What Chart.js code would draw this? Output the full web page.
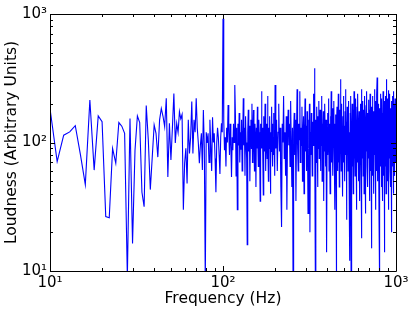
<!DOCTYPE html>
<html>
<head>
<meta charset="utf-8">
<script src="https://cdn.jsdelivr.net/npm/chart.js@4"></script>
<style>
html,body{margin:0;padding:0;background:#fff;}
#wrap{width:415px;height:312px;}
</style>
</head>
<body>
<div id="wrap"><canvas id="c" width="415" height="312"></canvas></div>
<script>
// Frequency grid segments (Hz): start, step, and values
const segStart = [10, 121, 202];
const segStep  = [1, 1, 2];

// 10..120 Hz, 1 Hz apart
const lowVals = [184,71,114,121,135,80,47,214,61,161,145,26.5,26,90,69,143,134,118,9,154,16.4,87,161,143,41,31.6,194,105,43,77,137,118,77,
150,184,160,133,221,54,141,73,130,241,
99,141,120,174,153,165,30,69,90,48,
150,82,110,208,82,150,120,221,130,99,
69,95,118,61,179,90,8,120,99,118,
70,150,95,60,157,100,118,75,41,99,
130,110,80,57,110,141,120,920,150,87,
110,65,130,100,196,120,80,140,95,54,
110,87,140,100,280,160,55,130];

// 121..200 Hz, 1 Hz apart
const midVals = [30,140,95,170,70,120,88,150,60,110,
221,95,130,55,160,100,75,16,120,180,
85,135,50,110,150,90,200,70,120,179,
95,60,140,110,45,130,90,190,100,65,
150,120,80,35,140,105,250,90,130,70,
39,160,110,85,200,95,60,140,115,75,
230,100,50,130,90,160,110,40,120,85,
190,100,140,65,110,170,80,125,55,280];

// 202..1000 Hz, 2 Hz apart
const highVals = [
90,150,60,120,200,85,130,45,22,140,100,230,75,120,55,160,30,110,180,95,
140,65,210,100,45,130,8,120,170,80,150,35,115,260,90,60,140,105,250,70,
130,95,190,50,120,160,40,110,220,85,135,60,175,100,28,150,90,200,20,120,
80,170,110,55,145,95,240,130,378,100,8,150,70,190,115,45,160,90,210,75,
130,180,60,120,95,230,50,140,100,175,35,120,85,200,110,65,150,95,14,130,
170,80,120,220,60,140,100,40,160,90,250,115,70,130,185,55,120,95,210,75,
140,30,110,165,85,8,130,190,60,120,100,240,70,150,45,115,180,90,310,100,
60,140,200,85,125,38,160,100,230,70,135,95,50,175,110,260,80,145,25,120,
190,90,130,60,210,105,150,45,120,80,12,170,100,230,8,140,85,120,200,65,
150,110,40,180,95,250,75,130,100,55,160,120,220,85,30,140,105,190,70,125,
240,90,150,50,115,175,80,135,35,120,200,95,145,60,18,130,260,100,165,75,
120,210,55,140,100,180,40,125,90,230,70,150,110,28,135,195,85,120,250,65,
140,100,170,45,130,90,215,75,150,115,35,180,95,240,60,130,105,200,80,140,
15,120,190,90,150,55,230,100,135,70,175,115,40,160,95,260,80,140,110,30,
125,210,85,145,60,180,100,235,320,90,130,50,165,110,200,75,140,95,25,120,
185,80,8,150,105,240,65,135,100,190,45,125,90,220,70,155,115,35,170,95,
250,80,140,105,55,180,120,210,75,14,130,95,230,65,150,110,190,40,135,310,
100,160,70,125,220,85,145,50,175,110,255,90,135,30,160,100,200,75,140,115,
240,60,130,95,185,45,150,105,210,20,125,170,80,140,100,230,65,155,115,195,
85,135,40,170,100,250,75,145,110,200,55,130,90,220,70,160,120,180,95,140];

const segVals = [lowVals, midVals, highVals];
const xTickLabels = {10:'10¹',100:'10²',1000:'10³'};
const yTickLabels = {10:'10¹',100:'10²',1000:'10³'};

const points = [];
segVals.forEach((vals, s) => {
  vals.forEach((v, i) => points.push({x: segStart[s] + i * segStep[s], y: v}));
});

const FONT = "'DejaVu Sans', sans-serif";

const framePlugin = {
  id: 'frame',
  afterDraw(chart) {
    const {ctx, chartArea: a, scales: {x, y}} = chart;
    ctx.save();
    ctx.strokeStyle = '#000';
    ctx.lineWidth = 1;
    ctx.beginPath();
    ctx.rect(Math.round(a.left) + 0.5, Math.round(a.top) + 0.5,
             Math.round(a.right) - Math.round(a.left), Math.round(a.bottom) - Math.round(a.top));
    ctx.stroke();
    const vals = [];
    [10, 100].forEach(d => { for (let m = 1; m <= 9; m++) vals.push([d * m, m === 1]); });
    vals.push([1000, true]);
    ctx.beginPath();
    vals.forEach(([v, major]) => {
      const len = major ? 5 : 3;
      const px = Math.round(x.getPixelForValue(v)) + 0.5;
      ctx.moveTo(px, a.bottom); ctx.lineTo(px, a.bottom - len);
      ctx.moveTo(px, a.top); ctx.lineTo(px, a.top + len);
      const py = Math.round(y.getPixelForValue(v)) + 0.5;
      ctx.moveTo(a.left, py); ctx.lineTo(a.left + len, py);
      ctx.moveTo(a.right, py); ctx.lineTo(a.right - len, py);
    });
    ctx.stroke();
    ctx.restore();
  }
};

new Chart(document.getElementById('c'), {
  type: 'scatter',
  data: {
    datasets: [{
      data: points,
      showLine: true,
      borderColor: '#0000ff',
      borderWidth: 1.1,
      pointRadius: 0,
      pointHoverRadius: 0,
      fill: false,
      tension: 0
    }]
  },
  options: {
    responsive: false,
    animation: false,
    events: [],
    layout: {padding: {top: 14, right: 19, left: 0, bottom: 0}},
    plugins: {legend: {display: false}, tooltip: {enabled: false}},
    scales: {
      x: {
        type: 'logarithmic',
        min: 10, max: 1000,
        grid: {display: false, drawTicks: false},
        border: {display: false},
        afterFit(s) { s.height = 41; },
        ticks: {
          autoSkip: false, maxRotation: 0, padding: 3,
          color: '#000', font: {family: FONT, size: 15},
          callback: v => xTickLabels[v] || ''
        },
        title: {display: true, text: 'Frequency (Hz)', color: '#000',
                font: {family: FONT, size: 15.5}, padding: {top: 0, bottom: 4}}
      },
      y: {
        type: 'logarithmic',
        min: 10, max: 1000,
        grid: {display: false, drawTicks: false},
        border: {display: false},
        afterFit(s) { s.width = 50; },
        ticks: {
          autoSkip: false, padding: 3,
          color: '#000', font: {family: FONT, size: 15},
          callback: v => yTickLabels[v] || ''
        },
        title: {display: true, text: 'Loudness (Arbitrary Units)', color: '#000',
                font: {family: FONT, size: 15.5}, padding: {top: 3, bottom: 0}}
      }
    }
  },
  plugins: [framePlugin]
});
</script>
</body>
</html>
